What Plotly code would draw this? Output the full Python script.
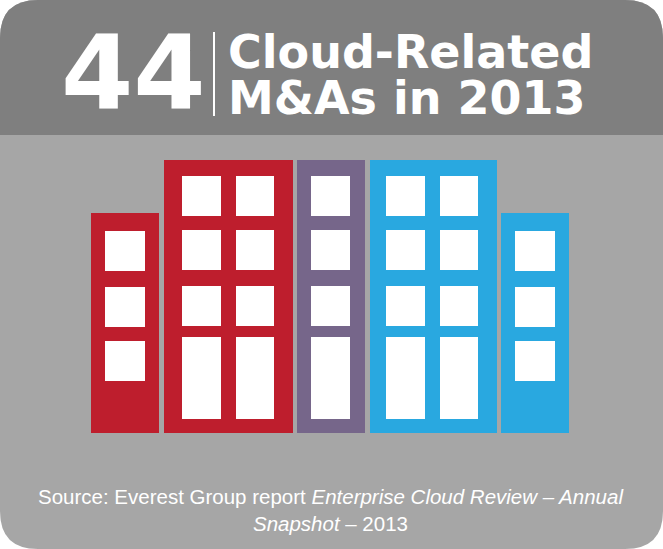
import plotly.graph_objects as go

W, H = 663, 549

# buildings: left, right, top (pixels from top), bottom
bld_left = [91, 164, 297, 370, 501]
bld_right = [159, 293, 365, 497, 569]
bld_top = [213, 160, 160, 160, 213]
bld_bottom = 433
bld_color = ["#be1e2d", "#be1e2d", "#76668a", "#29a8e0", "#29a8e0"]

# windows: left, right, top, bottom (pixels from top)
win_left = [105, 105, 105,
            182, 236, 182, 236, 182, 236, 182, 236,
            311, 311, 311, 311,
            386, 440, 386, 440, 386, 440, 386, 440,
            515, 515, 515]
win_right = [145, 145, 145,
             221, 274, 221, 274, 221, 274, 221, 274,
             350, 350, 350, 350,
             425, 478, 425, 478, 425, 478, 425, 478,
             555, 555, 555]
win_top = [231, 287, 341,
           176, 176, 230, 230, 286, 286, 337, 337,
           176, 230, 286, 337,
           176, 176, 230, 230, 286, 286, 337, 337,
           231, 287, 341]
win_bottom = [271, 327, 381,
              216, 216, 270, 270, 326, 326, 419, 419,
              216, 270, 326, 419,
              216, 216, 270, 270, 326, 326, 419, 419,
              271, 327, 381]

fig = go.Figure()
fig.add_trace(go.Bar(
    x=[(l + r) / 2 for l, r in zip(bld_left, bld_right)],
    width=[r - l for l, r in zip(bld_left, bld_right)],
    base=[H - bld_bottom] * len(bld_left),
    y=[bld_bottom - t for t in bld_top],
    marker=dict(color=bld_color, line=dict(width=0)),
    hoverinfo="skip",
))
fig.add_trace(go.Bar(
    x=[(l + r) / 2 for l, r in zip(win_left, win_right)],
    width=[r - l for l, r in zip(win_left, win_right)],
    base=[H - b for b in win_bottom],
    y=[b - t for t, b in zip(win_top, win_bottom)],
    marker=dict(color="white", line=dict(width=0)),
    hoverinfo="skip",
))

r = 38
band = 135
full = (f"M {r},0 L {W-r},0 Q {W},0 {W},{r} L {W},{H-r} Q {W},{H} {W-r},{H} "
        f"L {r},{H} Q 0,{H} 0,{H-r} L 0,{r} Q 0,0 {r},0 Z")
top = (f"M 0,{H-band} L 0,{H-r} Q 0,{H} {r},{H} L {W-r},{H} Q {W},{H} {W},{H-r} "
       f"L {W},{H-band} Z")
shapes = [
    dict(type="path", path=full, fillcolor="#a6a6a6", line=dict(width=0), layer="below"),
    dict(type="path", path=top, fillcolor="#7f7f7f", line=dict(width=0), layer="below"),
    dict(type="line", x0=214, x1=214, y0=H - 32, y1=H - 116, line=dict(color="white", width=2)),
]

font = "Arial, Liberation Sans, sans-serif"
bold = "DejaVu Sans, sans-serif"
annotations = [
    dict(x=133, y=H - 73, text="<b>44</b>", font=dict(size=104, color="white", family=bold)),
    dict(x=226, y=H - 52, text="<b>Cloud-Related</b>", xanchor="left",
         font=dict(size=46, color="white", family=bold)),
    dict(x=226, y=H - 98, text="<b>M&As in 2013</b>", xanchor="left",
         font=dict(size=46, color="white", family=bold)),
    dict(x=331, y=H - 510,
         text="Source: Everest Group report <i>Enterprise Cloud Review – Annual</i><br><i>Snapshot</i> – 2013",
         font=dict(size=20.5, color="white", family=font)),
]
for a in annotations:
    a.update(xref="x", yref="y", showarrow=False)

fig.update_layout(
    width=W, height=H, margin=dict(l=0, r=0, t=0, b=0),
    paper_bgcolor="white", plot_bgcolor="rgba(0,0,0,0)",
    barmode="overlay", showlegend=False,
    xaxis=dict(range=[0, W], visible=False, fixedrange=True),
    yaxis=dict(range=[0, H], visible=False, fixedrange=True),
    shapes=shapes, annotations=annotations,
)
fig.write_html("out.html", config={"displayModeBar": False},
               post_script="document.body.style.margin='0';")
